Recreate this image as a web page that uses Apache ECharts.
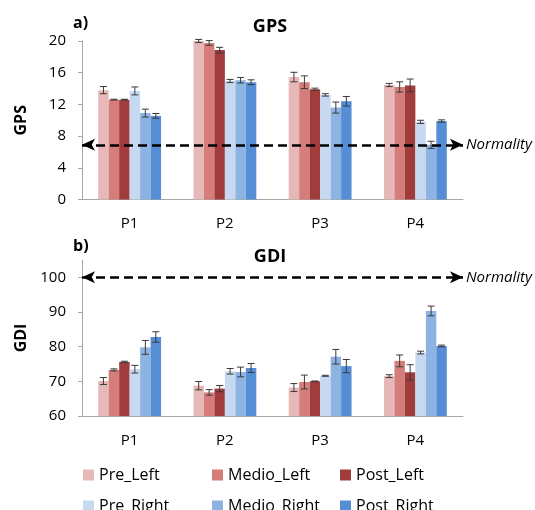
<!DOCTYPE html>
<html>
<head>
<meta charset="utf-8">
<script src="https://cdn.jsdelivr.net/npm/echarts@6/dist/echarts.min.js"></script>
<style>html,body{margin:0;padding:0;background:#fff}#c{width:535px;height:510px}</style>
</head>
<body>
<div id="c"></div>
<script>
const categories = ['P1', 'P2', 'P3', 'P4'];
const seriesNames = ['Pre_Left', 'Medio_Left', 'Post_Left', 'Pre_Right', 'Medio_Right', 'Post_Right'];
const colors = ['#E6B9B8', '#D47D7A', '#A03C3C', '#C6D9F1', '#8DB3E2', '#558ED5'];

// GPS values (panel a)
const gpsPreLeft    = [13.8, 20.0, 15.45, 14.45];
const gpsMedioLeft  = [12.6, 19.75, 14.8, 14.2];
const gpsPostLeft   = [12.6, 18.85, 13.9, 14.4];
const gpsPreRight   = [13.7, 14.95, 13.2, 9.8];
const gpsMedioRight = [10.9, 15.05, 11.6, 6.9];
const gpsPostRight  = [10.55, 14.8, 12.4, 9.9];
// GPS error (+/-)
const gpsErrPreLeft    = [0.45, 0.2, 0.6, 0.2];
const gpsErrMedioLeft  = [0.05, 0.3, 0.8, 0.65];
const gpsErrPostLeft   = [0.05, 0.35, 0.15, 0.8];
const gpsErrPreRight   = [0.5, 0.2, 0.15, 0.2];
const gpsErrMedioRight = [0.5, 0.35, 0.7, 0.45];
const gpsErrPostRight  = [0.3, 0.3, 0.6, 0.15];

// GDI values (panel b)
const gdiPreLeft    = [70.1, 68.75, 68.2, 71.5];
const gdiMedioLeft  = [73.3, 66.8, 69.8, 75.9];
const gdiPostLeft   = [75.6, 67.9, 70.0, 72.6];
const gdiPreRight   = [73.5, 72.9, 71.6, 78.3];
const gdiMedioRight = [79.8, 72.7, 77.1, 90.3];
const gdiPostRight  = [82.8, 73.85, 74.4, 80.2];
// GDI error (+/-)
const gdiErrPreLeft    = [1.0, 1.2, 1.15, 0.4];
const gdiErrMedioLeft  = [0.3, 0.8, 2.0, 1.7];
const gdiErrPostLeft   = [0.2, 0.9, 0.1, 2.2];
const gdiErrPreRight   = [1.1, 0.8, 0.15, 0.4];
const gdiErrMedioRight = [2.0, 1.4, 2.1, 1.4];
const gdiErrPostRight  = [1.5, 1.3, 1.9, 0.25];

const normalityGPS = 6.9;
const normalityGDI = 100;

const gpsTicks = [0, 4, 8, 12, 16, 20];
const gdiTicks = [60, 70, 80, 90, 100];

const gpsVals = [gpsPreLeft, gpsMedioLeft, gpsPostLeft, gpsPreRight, gpsMedioRight, gpsPostRight];
const gpsErrs = [gpsErrPreLeft, gpsErrMedioLeft, gpsErrPostLeft, gpsErrPreRight, gpsErrMedioRight, gpsErrPostRight];
const gdiVals = [gdiPreLeft, gdiMedioLeft, gdiPostLeft, gdiPreRight, gdiMedioRight, gdiPostRight];
const gdiErrs = [gdiErrPreLeft, gdiErrMedioLeft, gdiErrPostLeft, gdiErrPreRight, gdiErrMedioRight, gdiErrPostRight];

const FONT = 'Open Sans';
const GAP = 0.34;

function normLine(v) {
  return {
    silent: true,
    symbol: ['arrow', 'arrow'],
    symbolSize: [9, 13],
    lineStyle: { type: [9, 5], color: '#000', width: 2.5 },
    label: { show: true, position: 'end', formatter: 'Normality', fontStyle: 'italic', color: '#000', fontSize: 15, fontFamily: FONT, distance: 3 },
    data: [{ yAxis: v }]
  };
}

const series = [];
function addPanel(vals, errs, g, norm) {
  vals.forEach((arr, si) => {
    const s = {
      type: 'bar', name: seriesNames[si], xAxisIndex: g, yAxisIndex: g,
      data: arr, barGap: '0%', barCategoryGap: (GAP * 100) + '%',
      itemStyle: { color: colors[si] }
    };
    if (si === 0) s.markLine = normLine(norm);
    series.push(s);
  });
  vals.forEach((arr, si) => {
    series.push({
      type: 'custom', xAxisIndex: g, yAxisIndex: g, z: 5,
      data: arr.map((v, i) => [i, v - errs[si][i], v + errs[si][i]]),
      encode: { x: 0, y: [1, 2] },
      renderItem: (params, api) => {
        const c = api.value(0);
        const lo = api.coord([c, api.value(1)]);
        const hi = api.coord([c, api.value(2)]);
        const band = api.size([1, 0])[0];
        const gw = band * (1 - GAP);
        const bw = gw / 6;
        const x = lo[0] - gw / 2 + bw * (si + 0.5);
        const cw = 3.5;
        const st = { stroke: '#3a3a3a', lineWidth: 1 };
        return { type: 'group', children: [
          { type: 'line', shape: { x1: x, y1: lo[1], x2: x, y2: hi[1] }, style: st },
          { type: 'line', shape: { x1: x - cw, y1: lo[1], x2: x + cw, y2: lo[1] }, style: st },
          { type: 'line', shape: { x1: x - cw, y1: hi[1], x2: x + cw, y2: hi[1] }, style: st }
        ]};
      }
    });
  });
}
addPanel(gpsVals, gpsErrs, 0, normalityGPS);
addPanel(gdiVals, gdiErrs, 1, normalityGDI);

const axisLineStyle = { lineStyle: { color: '#A6A6A6', width: 1 } };
const labelStyle = { color: '#000', fontSize: 15, fontFamily: FONT };

function xAx(g) {
  return { type: 'category', gridIndex: g, data: categories, axisLine: axisLineStyle, axisTick: { show: false },
    axisLabel: Object.assign({ margin: 17 }, labelStyle) };
}
function yAx(g, min, max, interval, ticks, name, gap) {
  return { type: 'value', gridIndex: g, min: min, max: max, interval: interval,
    name: name, nameLocation: 'middle', nameGap: gap, nameRotate: 90,
    nameTextStyle: { color: '#000', fontSize: 16, fontWeight: 'bold', fontFamily: FONT },
    axisLine: Object.assign({ show: true }, axisLineStyle),
    axisTick: { show: true, length: 4, lineStyle: { color: '#A6A6A6' }, customValues: ticks },
    axisLabel: Object.assign({ margin: 16, customValues: ticks }, labelStyle),
    splitLine: { show: false } };
}

const legends = seriesNames.map((n, i) => ({
  data: [n], left: [83, 212, 340][i % 3], top: i < 3 ? 467 : 498, padding: 0,
  itemWidth: 11, itemHeight: 11, icon: 'rect', selectedMode: false,
  textStyle: { color: '#000', fontSize: 16, fontFamily: FONT }
}));

const chart = echarts.init(document.getElementById('c'), null, { renderer: 'canvas' });
chart.setOption({
  animation: false,
  textStyle: { fontFamily: FONT },
  grid: [
    { left: 82, right: 72, top: 41, height: 158.5 },
    { left: 82, right: 72, top: 260, height: 156 }
  ],
  xAxis: [xAx(0), xAx(1)],
  yAxis: [yAx(0, 0, 20, 4, gpsTicks, 'GPS', 53), yAx(1, 60, 105, 10, gdiTicks, 'GDI', 53)],
  legend: legends,
  series: series,
  graphic: [
    { type: 'text', left: 73, top: 15, style: { text: 'a)', fontSize: 16, fontWeight: 'bold', fontFamily: FONT, fill: '#000' } },
    { type: 'text', x: 270, y: 27, style: { text: 'GPS', fontSize: 18, fontWeight: 'bold', fontFamily: FONT, fill: '#000', align: 'center', verticalAlign: 'middle' } },
    { type: 'text', left: 73, top: 238, style: { text: 'b)', fontSize: 16, fontWeight: 'bold', fontFamily: FONT, fill: '#000' } },
    { type: 'text', x: 270, y: 257, style: { text: 'GDI', fontSize: 18, fontWeight: 'bold', fontFamily: FONT, fill: '#000', align: 'center', verticalAlign: 'middle' } }
  ]
});
</script>
</body>
</html>
